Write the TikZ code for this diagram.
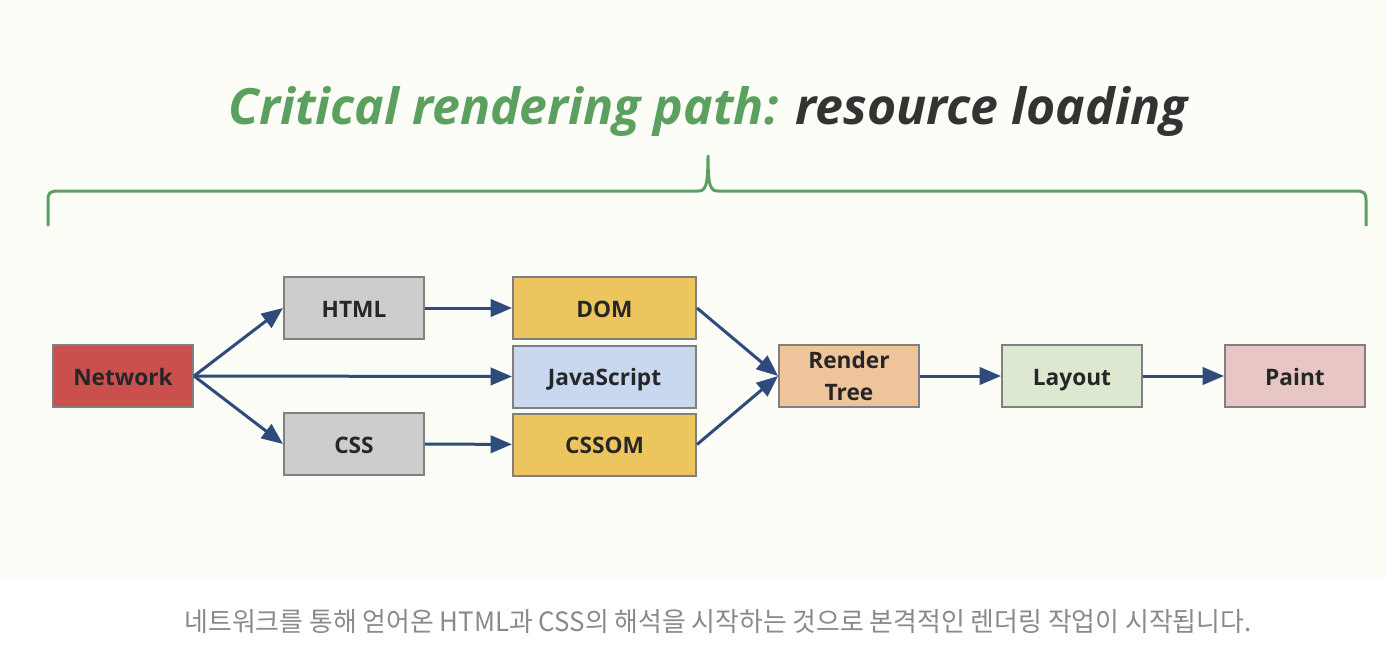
\documentclass[tikz,border=0pt]{standalone}
\usepackage{fontspec}
\setmainfont{Open Sans}
\newfontfamily\kr{Noto Sans CJK KR}
\usetikzlibrary{arrows.meta}

\definecolor{bgtop}{RGB}{253,253,248}
\definecolor{netred}{RGB}{201,80,76}
\definecolor{boxgray}{RGB}{205,205,205}
\definecolor{domyellow}{RGB}{237,197,95}
\definecolor{jsblue}{RGB}{201,216,238}
\definecolor{treetan}{RGB}{238,197,154}
\definecolor{layoutgreen}{RGB}{220,232,207}
\definecolor{paintpink}{RGB}{232,198,197}
\definecolor{edgegray}{RGB}{128,128,128}
\definecolor{flowblue}{RGB}{47,75,124}
\definecolor{titlegreen}{RGB}{91,160,95}
\definecolor{titledark}{RGB}{51,51,51}
\definecolor{captiongray}{RGB}{138,138,138}

\begin{document}
\begin{tikzpicture}[x=0.75pt,y=0.75pt,yscale=-1,xscale=1,
  stagebox/.style={draw=edgegray, line width=1.5pt, minimum width=105pt, minimum height=46.5pt,
    inner sep=0pt, align=center, font=\fontsize{17}{24}\selectfont\bfseries, text=black!85},
  stage/.style={stagebox, text height=14pt, text depth=0.5pt},
  widestage/.style={stage, minimum width=137.25pt},
  flow/.style={draw=flowblue, line width=2.25pt, -{Triangle[length=16pt,width=13pt]}}]
%set diagram size
\useasboundingbox (0,0) rectangle (1386,668);
\fill[bgtop] (0,0) rectangle (1386,580);
\fill[white] (0,580) rectangle (1386,668);

%Title
\node (title) at (708,112) {\fontsize{37.5}{40}\selectfont\bfseries\itshape\textcolor{titlegreen}{Critical rendering path:} \textcolor{titledark}{resource loading}};

%Brace
\draw[titlegreen, line width=2.25pt, line join=round] (48,226) -- (48,200) .. controls (48,193) and (50,191) .. (58,191) -- (698,191) .. controls (705,191) and (708,188) .. (708,156) .. controls (708,188) and (711,191) .. (718,191) -- (1356,191) .. controls (1364,191) and (1366,193) .. (1366,200) -- (1366,226);

%Boxes
\node[stage, fill=netred] (network) at (123,376) {Network};
\node[stage, fill=boxgray] (html) at (354,308) {HTML};
\node[stage, fill=boxgray] (css) at (354,444) {CSS};
\node[widestage, fill=domyellow] (dom) at (604.5,308) {DOM};
\node[widestage, fill=jsblue] (js) at (604.5,376.5) {JavaScript};
\node[widestage, fill=domyellow] (cssom) at (604.5,444.5) {CSSOM};
\node[stagebox, fill=treetan] (tree) at (849,376) {Render\\Tree};
\node[stage, fill=layoutgreen] (layout) at (1072,376) {Layout};
\node[stage, fill=paintpink] (paint) at (1295,376) {Paint};

%Arrows
\draw[flow] (network.east) -- (html.west);
\draw[flow] (network.east) -- (js.west);
\draw[flow] (network.east) -- (css.west);
\draw[flow] (html) -- (dom);
\draw[flow] (css) -- (cssom);
\draw[flow] (dom.east) -- (tree.west);
\draw[flow] (cssom.east) -- (tree.west);
\draw[flow] (tree) -- (layout);
\draw[flow] (layout) -- (paint);

%Caption
\node[text=captiongray] (caption) at (718,622) {\kr\fontsize{20}{22}\selectfont\addfontfeatures{FakeStretch=0.97}네트워크를 통해 얻어온 HTML과 CSS의 해석을 시작하는 것으로 본격적인 렌더링 작업이 시작됩니다.};

\end{tikzpicture}
\end{document}
